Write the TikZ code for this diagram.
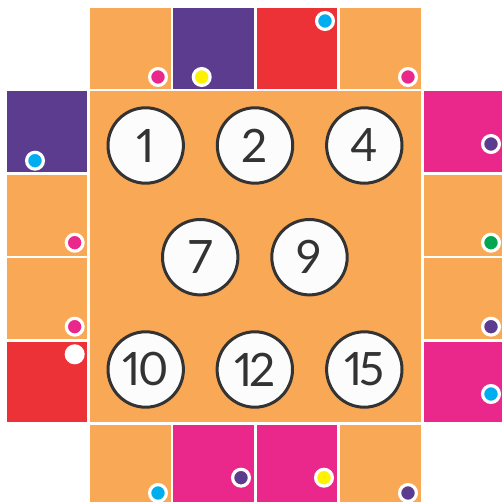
\documentclass[tikz,border=0pt]{standalone}
\usepackage{fontspec}
\setmainfont{Lato}[Numbers=Proportional]
\newfontfamily\ballfont{Lato}[Numbers=Proportional,LetterSpace=-6]
\definecolor{cOrange}{HTML}{F9A856}
\definecolor{cPurple}{HTML}{5B3C8F}
\definecolor{cRed}{HTML}{EC3237}
\definecolor{cMagenta}{HTML}{EA288C}
\definecolor{cCyan}{HTML}{00AEEF}
\definecolor{cYellow}{HTML}{FFF200}
\definecolor{cGreen}{HTML}{00A650}
\definecolor{cInk}{HTML}{333333}
\begin{document}
\begin{tikzpicture}[x=1pt,y=-1pt,
  tile/.style={rectangle,minimum size=80.6pt,inner sep=0pt,outer sep=0pt,draw=none},
  board/.style={rectangle,minimum size=330.7pt,inner sep=0pt,outer sep=0pt,fill=cOrange},
  ball/.style={circle,minimum size=75.4pt,inner sep=0pt,draw=cInk,line width=3pt,fill=white!99!black,
    text=cInk,font=\ballfont\fontsize{46}{46}\selectfont},
  dot/.style={circle,minimum size=16.8pt,inner sep=0pt,draw=white,line width=3.2pt}]
\useasboundingbox (0,0) rectangle (501,502);
\fill[white] (0,0) rectangle (501,502);
% central board
\node[board] (board) at (255.35,256.85) {};
% top row
\node[tile,fill=cOrange] (t1) at (130.3,48.4) {};
\node[tile,fill=cPurple] (t2) at (213.7,48.4) {};
\node[tile,fill=cRed] (t3) at (297.1,48.4) {};
\node[tile,fill=cOrange] (t4) at (380.5,48.4) {};
% left column
\node[tile,fill=cPurple] (l1) at (46.9,131.8) {};
\node[tile,fill=cOrange] (l2) at (46.9,215.2) {};
\node[tile,fill=cOrange] (l3) at (46.9,298.6) {};
\node[tile,fill=cRed] (l4) at (46.9,382.0) {};
% right column
\node[tile,fill=cMagenta] (r1) at (463.8,131.8) {};
\node[tile,fill=cOrange] (r2) at (463.8,215.2) {};
\node[tile,fill=cOrange] (r3) at (463.8,298.6) {};
\node[tile,fill=cMagenta] (r4) at (463.8,382.0) {};
% bottom row
\node[tile,fill=cOrange] (b1) at (130.3,465.3) {};
\node[tile,fill=cMagenta] (b2) at (213.7,465.3) {};
\node[tile,fill=cMagenta] (b3) at (297.1,465.3) {};
\node[tile,fill=cOrange] (b4) at (380.5,465.3) {};
% dots
\node[dot,fill=cMagenta] (dt1) at (158,77) {};
\node[dot,fill=cYellow] (dt2) at (201.7,77) {};
\node[dot,fill=cCyan] (dt3) at (325,21) {};
\node[dot,fill=cMagenta] (dt4) at (408,77) {};
\node[dot,fill=cCyan] (dl1) at (35,160.7) {};
\node[dot,fill=cMagenta] (dl2) at (74.7,242.7) {};
\node[dot,fill=cMagenta] (dl3) at (74.7,326.7) {};
\node[dot,fill=white] (dl4) at (74.7,354.3) {};
\node[dot,fill=cPurple] (dr1) at (491,144) {};
\node[dot,fill=cGreen] (dr2) at (491,242.7) {};
\node[dot,fill=cPurple] (dr3) at (491,326.7) {};
\node[dot,fill=cCyan] (dr4) at (491,394) {};
\node[dot,fill=cCyan] (db1) at (158,493) {};
\node[dot,fill=cPurple] (db2) at (241,477.7) {};
\node[dot,fill=cYellow] (db3) at (324,477.7) {};
\node[dot,fill=cPurple] (db4) at (408,493) {};
% numbered balls
\node[ball] (n1) at (145.7,145.5) {1};
\node[ball] (n2) at (255,145.5) {2};
\node[ball] (n4) at (364.3,145.5) {4};
\node[ball] (n7) at (200.2,257.2) {7};
\node[ball] (n9) at (309.5,257.2) {9};
\node[ball] (n10) at (145.7,369.5) {10};
\node[ball] (n12) at (254.8,369.5) {12};
\node[ball] (n15) at (364.3,369.5) {15};
\end{tikzpicture}
\end{document}
